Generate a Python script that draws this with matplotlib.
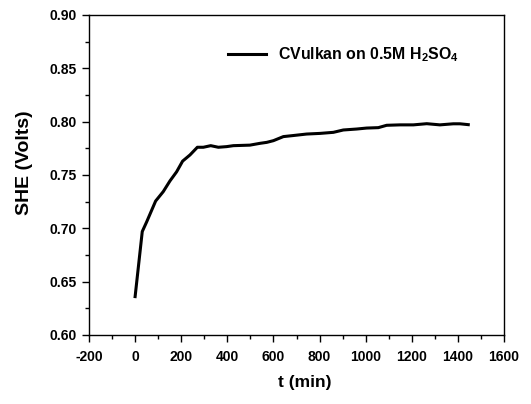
import matplotlib
matplotlib.use("Agg")
import matplotlib.pyplot as plt
from matplotlib.ticker import MultipleLocator, FormatStrFormatter

# -----------------------------
# Data
# -----------------------------
t_min = [0, 31, 50, 89, 122, 151, 180, 206, 238, 270, 296, 328, 361, 397,
         426, 498, 542, 571, 600, 643, 686, 744, 802, 860, 903, 961, 1004,
         1055, 1091, 1149, 1207, 1265, 1322, 1380, 1409, 1445]
she_volts = [0.636, 0.697, 0.706, 0.7256, 0.7344, 0.7444, 0.753, 0.763,
             0.7688, 0.776, 0.776, 0.7775, 0.776, 0.7766, 0.7775, 0.778,
             0.7797, 0.7806, 0.7822, 0.786, 0.787, 0.7884, 0.789, 0.790,
             0.7922, 0.7931, 0.794, 0.7944, 0.7966, 0.797, 0.797, 0.7981,
             0.797, 0.798, 0.798, 0.7972]

plt.rcParams["font.family"] = ["Liberation Sans", "DejaVu Sans"]
plt.rcParams["font.weight"] = "bold"
plt.rcParams["axes.unicode_minus"] = False
plt.rcParams["mathtext.fontset"] = "custom"
plt.rcParams["mathtext.rm"] = "Liberation Sans:bold"
plt.rcParams["mathtext.bf"] = "Liberation Sans:bold"
plt.rcParams["mathtext.default"] = "bf"

fig = plt.figure(figsize=(5.31, 4.04), dpi=100)
ax = fig.add_axes([89 / 531, 1 - 335 / 404, 415 / 531, 320 / 404])

ax.plot(t_min, she_volts, color="black", linewidth=2.2,
        label=r"CVulkan on 0.5M H$_2$SO$_4$")

ax.set_xlim(-200, 1600)
ax.set_ylim(0.60, 0.90)
ax.xaxis.set_major_locator(MultipleLocator(200))
ax.xaxis.set_minor_locator(MultipleLocator(100))
ax.yaxis.set_major_locator(MultipleLocator(0.05))
ax.yaxis.set_minor_locator(MultipleLocator(0.025))
ax.yaxis.set_major_formatter(FormatStrFormatter("%.2f"))

ax.tick_params(which="both", direction="out", top=False, right=False,
               labelsize=10, width=1)
ax.tick_params(which="major", length=5, pad=4)
ax.tick_params(which="minor", length=3)
ax.tick_params(axis="x", which="major", pad=6)
for s in ax.spines.values():
    s.set_linewidth(1)

ax.set_xlabel("t (min)", fontsize=12.5, fontweight="bold", labelpad=8, x=0.52)
ax.set_ylabel("SHE (Volts)", fontsize=14, fontweight="bold", labelpad=12, y=0.54)

ax.legend(loc="upper left", bbox_to_anchor=(0.3, 0.95), frameon=False,
          handlelength=2.4, handletextpad=0.75,
          prop={"weight": "bold", "size": 11.4})

plt.savefig("out.png", dpi=100)
